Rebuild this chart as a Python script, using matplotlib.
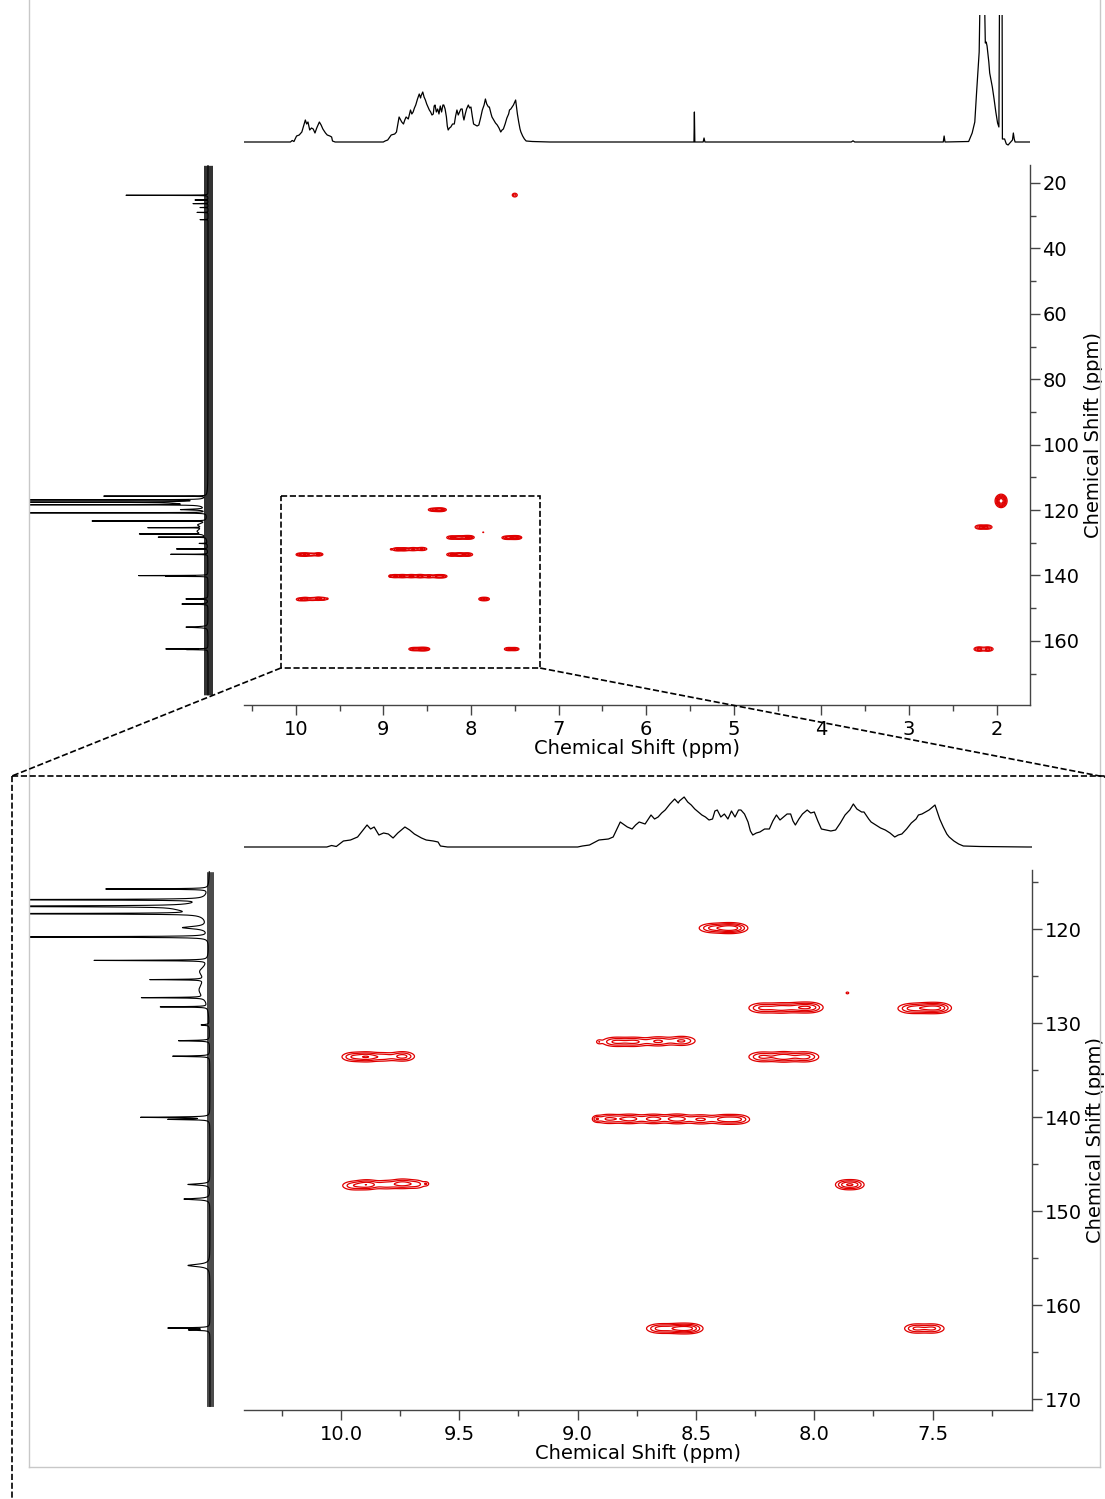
import numpy as np
import matplotlib.pyplot as plt
from matplotlib.lines import Line2D
from matplotlib.patches import Rectangle
from matplotlib.ticker import MultipleLocator, FormatStrFormatter

W, H = 1105, 1499

# 1H trace: ppm / intensity (pixels above baseline)
h_ppm = [10.60, 10.06, 10.04, 10.02, 9.99, 9.96, 9.93, 9.91, 9.89, 9.875, 9.86, 9.84,
         9.82, 9.80, 9.78, 9.76, 9.73, 9.71, 9.69, 9.66, 9.64, 9.61, 9.59, 9.58, 9.55,
         9.00, 8.98, 8.95, 8.91, 8.87, 8.85, 8.82, 8.79, 8.77, 8.755, 8.74, 8.715, 8.69,
         8.675, 8.66, 8.645, 8.63, 8.61, 8.59, 8.575, 8.57, 8.55, 8.535, 8.52, 8.505,
         8.49, 8.475, 8.46, 8.445, 8.43, 8.42, 8.41, 8.395, 8.38, 8.365, 8.35, 8.335,
         8.32, 8.31, 8.295, 8.28, 8.27, 8.26, 8.245, 8.23, 8.21, 8.19, 8.175, 8.16,
         8.145, 8.13, 8.115, 8.10, 8.09, 8.08, 8.065, 8.05, 8.03, 8.015, 8.00, 7.985,
         7.97, 7.95, 7.93, 7.91, 7.89, 7.87, 7.85, 7.835, 7.82, 7.80, 7.79, 7.77, 7.76,
         7.74, 7.72, 7.70, 7.68, 7.66, 7.645, 7.63, 7.61, 7.59, 7.57, 7.56, 7.545, 7.53,
         7.515, 7.50, 7.49, 7.48, 7.47, 7.455, 7.44, 7.43, 7.41, 7.39, 7.37, 7.30, 7.10,
         5.60, 5.455, 5.45, 5.445, 5.35, 5.34, 5.33, 3.66, 3.64, 3.62, 2.61, 2.60, 2.59,
         2.32, 2.28, 2.25, 2.23, 2.20, 2.18, 2.15, 2.13, 2.12, 2.11, 2.09, 2.08, 2.05,
         2.03, 2.01, 1.99, 1.975, 1.965, 1.94, 1.935, 1.91, 1.89, 1.87, 1.85, 1.82,
         1.81, 1.80, 1.79, 1.60]
h_int = [0, 0, 1.5, 0.5, 6, 7, 10, 16, 22, 18, 20, 12,
         14, 13, 9, 14, 20, 17, 13, 9, 7, 6, 5, 1, 0,
         0, 1, 2, 7, 8, 10, 25, 20, 18, 22, 25, 23, 32,
         28, 30, 34, 37, 43, 48, 44, 46, 50, 45, 42, 38,
         35, 32, 30, 27, 28, 36, 37, 30, 33, 28, 36, 30,
         37, 37, 33, 25, 16, 12, 14, 15, 18, 18, 26, 32,
         27, 30, 33, 33, 26, 22, 28, 33, 37, 34, 35, 26,
         18, 17, 16, 17, 24, 32, 37, 43, 38, 35, 35, 28, 25,
         22, 19, 17, 14, 10, 12, 13, 18, 24, 28, 32, 33, 35,
         37, 40, 42, 35, 28, 20, 13, 10, 6, 3, 1, 0.5, 0,
         0, 0, 30, 0, 0, 4, 0, 0, 1.2, 0, 0, 6, 0,
         0.5, 9, 20, 49, 90, 200, 200, 99, 100, 96, 80, 69, 55,
         43, 30, 19, 15, 200, 200, 3, 3, -2, -3, -1, 2,
         9, 3, 0, 0]

# 13C peak list: ppm / height (pixels) / half width (ppm)
c_ppm = [23.76, 25.2, 26.3, 27.5, 29.0, 31.2, 115.74, 116.88, 117.58, 117.8, 118.37,
         119.85, 120.84, 123.34, 124.5, 125.38, 126.5, 127.30, 128.28, 130.2, 131.88,
         133.53, 140.03, 140.25, 147.17, 148.73, 155.79, 162.45, 162.65]
c_height = [82, 13, 15, 8, 11, 8, 102, 300, 300, 30, 300,
            25, 300, 113, 8, 53, 10, 62, 47, 8, 31,
            37, 68, 40, 22, 26, 22, 41, 20]
c_width = [0.03, 0.03, 0.03, 0.03, 0.03, 0.03, 0.03, 0.03, 0.04, 0.5, 0.03,
           0.15, 0.03, 0.03, 0.6, 0.03, 1.0, 0.03, 0.03, 0.05, 0.04,
           0.04, 0.04, 0.04, 0.08, 0.08, 0.15, 0.04, 0.05]

# HSQC cross-peak components: 1H ppm, 13C ppm, widths and amplitude
xp_h = [8.43, 8.37, 8.33,
        8.22, 8.14, 8.06, 8.01,
        7.59, 7.52, 7.47,
        8.84, 8.76, 8.66, 8.56,
        8.22, 8.13, 8.04,
        9.95, 9.89, 9.82, 9.74,
        8.87, 8.78, 8.68, 8.58, 8.48, 8.38, 8.32,
        7.87, 7.83,
        9.95, 9.89, 9.81, 9.74, 9.68,
        8.65, 8.57, 8.52,
        7.57, 7.50,
        8.91, 8.92, 9.64, 7.86,
        7.50, 1.95, 2.19, 2.11, 2.20, 2.10]
xp_c = [119.9, 119.9, 119.9,
        128.4, 128.4, 128.35, 128.35,
        128.45, 128.4, 128.4,
        132.0, 132.0, 131.95, 131.9,
        133.6, 133.6, 133.6,
        133.6, 133.6, 133.6, 133.55,
        140.2, 140.2, 140.2, 140.2, 140.25, 140.25, 140.25,
        147.2, 147.2,
        147.3, 147.2, 147.2, 147.1, 147.15,
        162.5, 162.5, 162.5,
        162.5, 162.5,
        132.0, 140.2, 147.1, 126.8,
        23.7, 117.2, 125.2, 125.2, 162.5, 162.5]
xp_wh = [0.035, 0.03, 0.03,
         0.035, 0.035, 0.035, 0.03,
         0.035, 0.035, 0.03,
         0.035, 0.035, 0.035, 0.035,
         0.035, 0.035, 0.035,
         0.03, 0.03, 0.03, 0.03,
         0.035, 0.035, 0.035, 0.035, 0.035, 0.035, 0.03,
         0.025, 0.025,
         0.03, 0.03, 0.03, 0.03, 0.025,
         0.035, 0.035, 0.03,
         0.03, 0.03,
         0.008, 0.01, 0.008, 0.007,
         0.02, 0.03, 0.035, 0.035, 0.035, 0.035]
xp_wc = [0.3, 0.3, 0.3,
         0.32, 0.32, 0.32, 0.32,
         0.32, 0.32, 0.32,
         0.3, 0.3, 0.3, 0.3,
         0.32, 0.32, 0.32,
         0.3, 0.3, 0.3, 0.3,
         0.3, 0.3, 0.3, 0.3, 0.3, 0.3, 0.3,
         0.3, 0.3,
         0.3, 0.3, 0.3, 0.3, 0.3,
         0.3, 0.3, 0.3,
         0.3, 0.3,
         0.15, 0.2, 0.15, 0.12,
         0.4, 0.9, 0.4, 0.4, 0.4, 0.4]
xp_amp = [0.8, 1.0, 0.8,
          0.8, 0.9, 0.9, 0.7,
          0.8, 1.0, 0.8,
          0.8, 0.8, 0.8, 0.8,
          0.8, 1.0, 0.9,
          0.7, 1.0, 0.6, 0.9,
          0.8, 0.9, 0.9, 1.0, 0.8, 0.9, 0.7,
          0.8, 0.8,
          0.6, 1.0, 0.6, 0.9, 0.5,
          0.9, 1.1, 0.8,
          0.8, 0.8,
          0.35, 0.5, 0.35, 0.3,
          0.6, 3.0, 0.8, 0.8, 0.9, 0.9]

CONTOUR_LEVELS = [0.22, 0.45, 0.75, 1.1, 1.6, 2.2]

# region of the full spectrum that is blown up below
ZOOM_H = [10.17, 7.21]
ZOOM_C = [115.7, 168.3]

FULL_H = (10.59, 1.62)
FULL_C = (179.6, 14.5)
ZOOMED_H = (10.41, 7.08)
ZOOMED_C = (171.17, 113.72)

RED = '#e00000'
FS = 14


def rect(x0, y0, x1, y1):
    return [x0 / W, 1 - y1 / H, (x1 - x0) / W, (y1 - y0) / H]


def carbon_trace(ppm):
    y = np.zeros_like(ppm)
    for p, h, w in zip(c_ppm, c_height, c_width):
        y += h * w ** 2 / ((ppm - p) ** 2 + w ** 2)
    return y


def hsqc_field(hh, cc):
    z = np.zeros((len(cc), len(hh)))
    for h0, c0, wh, wc, a in zip(xp_h, xp_c, xp_wh, xp_wc, xp_amp):
        gx = np.exp(-0.5 * ((hh - h0) / wh) ** 2)
        gy = np.exp(-0.5 * ((cc - c0) / wc) ** 2)
        z += a * np.outer(gy, gx)
    return z


def style_2d(ax, xmaj, xmin, ymaj, ymin, xfmt):
    for s in ('top', 'left'):
        ax.spines[s].set_visible(False)
    for s in ('bottom', 'right'):
        ax.spines[s].set_color('#444444')
        ax.spines[s].set_linewidth(1.0)
    ax.yaxis.tick_right()
    ax.yaxis.set_label_position('right')
    ax.xaxis.set_major_locator(MultipleLocator(xmaj))
    ax.xaxis.set_minor_locator(MultipleLocator(xmin))
    ax.yaxis.set_major_locator(MultipleLocator(ymaj))
    ax.yaxis.set_minor_locator(MultipleLocator(ymin))
    ax.xaxis.set_major_formatter(FormatStrFormatter(xfmt))
    ax.tick_params(which='major', length=7, width=1, color='#444444',
                   labelsize=FS, pad=4)
    ax.tick_params(which='minor', length=4, width=1, color='#444444')
    ax.tick_params(axis='y', pad=2)
    ax.set_xlabel('Chemical Shift (ppm)', fontsize=FS, labelpad=0)
    ax.set_ylabel('Chemical Shift (ppm)', fontsize=FS, labelpad=3)


fig = plt.figure(figsize=(W / 100, H / 100), dpi=100)

# ---------------- full spectrum ----------------
ax_h1 = fig.add_axes(rect(244, 15, 1030, 150))
ax_h1.plot(h_ppm, h_int, color='black', lw=0.9)
ax_h1.set_xlim(*FULL_H)
ax_h1.set_ylim(-8, 127)
ax_h1.axis('off')

ax_c1 = fig.add_axes(rect(29, 165, 218, 705))
c_axis1 = np.arange(14.6, 176.5, 0.01)
ax_c1.fill_betweenx(c_axis1, -4.5, 4.5, color='black', lw=0, alpha=0.8)
ax_c1.plot(carbon_trace(c_axis1), c_axis1, color='black', lw=0.8)
ax_c1.set_xlim(179, -10)
ax_c1.set_ylim(*FULL_C)
ax_c1.axis('off')

ax1 = fig.add_axes(rect(244, 165, 1030, 705))
hh1 = np.arange(1.6, 10.6, 0.004)
cc1 = np.arange(14.5, 179.6, 0.1)
ax1.contour(hh1, cc1, hsqc_field(hh1, cc1), levels=CONTOUR_LEVELS,
            colors=RED, linewidths=0.9)
ax1.set_xlim(*FULL_H)
ax1.set_ylim(*FULL_C)
style_2d(ax1, 1, 0.5, 20, 10, '%d')
ax1.add_patch(Rectangle((ZOOM_H[0], ZOOM_C[0]), ZOOM_H[1] - ZOOM_H[0],
                        ZOOM_C[1] - ZOOM_C[0], fill=False, ls='--',
                        lw=1.2, ec='black'))

# ---------------- zoomed region ----------------
ax_h2 = fig.add_axes(rect(244, 790, 1032, 855))
ax_h2.plot(h_ppm, h_int, color='black', lw=0.9)
ax_h2.set_xlim(*ZOOMED_H)
ax_h2.set_ylim(-8, 57)
ax_h2.axis('off')

ax_c2 = fig.add_axes(rect(29, 870, 218, 1410))
c_axis2 = np.arange(113.9, 170.8, 0.01)
ax_c2.fill_betweenx(c_axis2, -3.5, 3.5, color='black', lw=0, alpha=0.7)
ax_c2.plot(carbon_trace(c_axis2), c_axis2, color='black', lw=0.8)
ax_c2.set_xlim(181, -8)
ax_c2.set_ylim(*ZOOMED_C)
ax_c2.axis('off')

ax2 = fig.add_axes(rect(244, 870, 1032, 1410))
hh2 = np.arange(7.0, 10.5, 0.003)
cc2 = np.arange(113.5, 171.5, 0.05)
ax2.contour(hh2, cc2, hsqc_field(hh2, cc2), levels=CONTOUR_LEVELS,
            colors=RED, linewidths=0.9)
ax2.set_xlim(*ZOOMED_H)
ax2.set_ylim(*ZOOMED_C)
style_2d(ax2, 0.5, 0.25, 10, 5, '%.1f')


# ---------------- frame and zoom connectors ----------------
def fig_pt(x, y):
    return x / W, 1 - y / H


def data_pt(ax, h, c):
    d = ax.transData.transform((h, c))
    return fig.transFigure.inverted().transform(d)


def fig_line(p0, p1, **kw):
    fig.add_artist(Line2D([p0[0], p1[0]], [p0[1], p1[1]],
                          transform=fig.transFigure, **kw))


gray = dict(color='#c8c8c8', lw=1.0)
fig_line(fig_pt(29, 0), fig_pt(29, 1467), **gray)
fig_line(fig_pt(1100, 0), fig_pt(1100, 1467), **gray)
fig_line(fig_pt(29, 1467), fig_pt(1100, 1467), **gray)

dash = dict(color='black', lw=1.2, ls='--')
fig_line(data_pt(ax1, ZOOM_H[0], ZOOM_C[1]), fig_pt(12, 776), **dash)
fig_line(data_pt(ax1, ZOOM_H[1], ZOOM_C[1]), fig_pt(1110, 778), **dash)
fig_line(fig_pt(12, 776), fig_pt(1105, 776), **dash)
fig_line(fig_pt(12, 776), fig_pt(12, 1499), **dash)

fig.savefig('out.png', dpi=100)
